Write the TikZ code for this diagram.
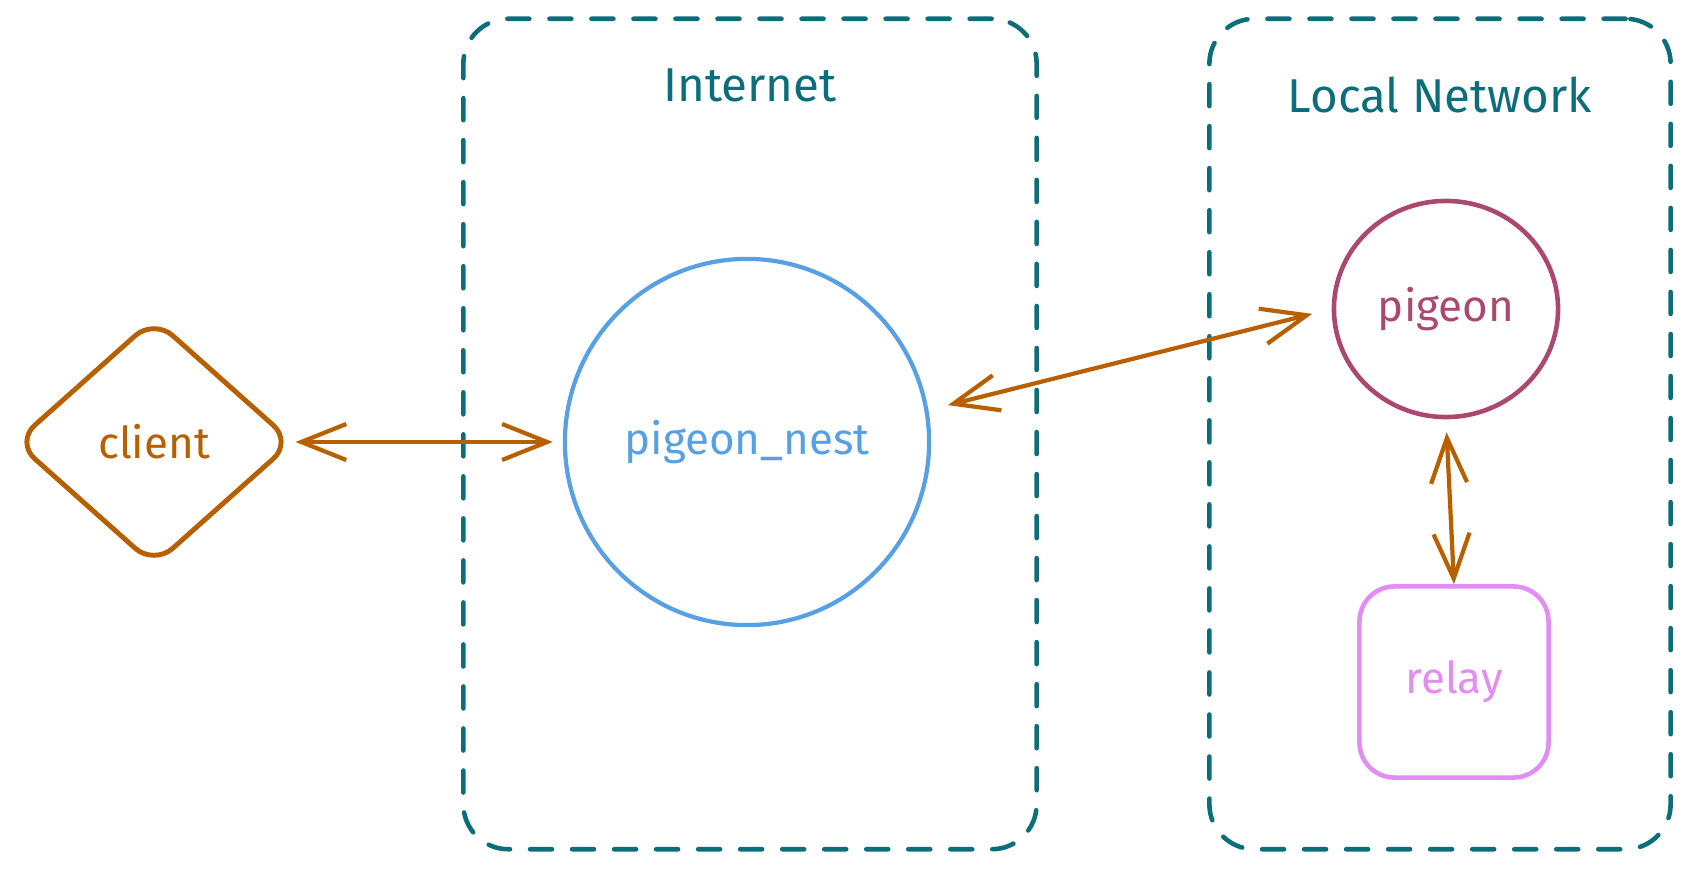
\documentclass[tikz,border=0pt]{standalone}
\usepackage{fontspec}
\setmainfont{Fira Sans}
\usetikzlibrary{positioning, shapes.geometric, arrows.meta}

\definecolor{zoneteal}{RGB}{11,110,122}
\definecolor{linkorange}{RGB}{184,96,0}
\definecolor{nestblue}{RGB}{88,160,228}
\definecolor{pigeonred}{RGB}{172,72,112}
\definecolor{relaypink}{RGB}{226,140,244}

\begin{document}
\begin{tikzpicture}[
    x=0.01cm, y=-0.01cm,
    font=\fontsize{12.5}{15}\selectfont,
    zone/.style={rectangle, draw=zoneteal, line width=1.3pt, dash pattern=on 0.22cm off 0.2cm,
        line cap=round, rounded corners=0.45cm, inner sep=0pt},
    zonelabel/.style={text=zoneteal, font=\fontsize{13.5}{15}\selectfont},
    client/.style={diamond, draw=linkorange, text=linkorange, line width=1.4pt, rounded corners=0.25cm,
        minimum width=2.78cm, minimum height=2.48cm, inner sep=0pt},
    nest/.style={ellipse, draw=nestblue, text=nestblue, line width=1.2pt, minimum width=3.64cm,
        minimum height=3.66cm, inner sep=0pt},
    pigeonnode/.style={ellipse, draw=pigeonred, text=pigeonred, line width=1.3pt, minimum width=2.24cm,
        minimum height=2.16cm, inner sep=0pt},
    relaynode/.style={rectangle, draw=relaypink, text=relaypink, line width=1.3pt, rounded corners=0.35cm,
        minimum width=1.89cm, minimum height=1.91cm, inner sep=0pt},
    link/.style={draw=linkorange, line width=1.2pt, line cap=round,
        {Straight Barb[length=0.45cm, width=0.36cm]}-{Straight Barb[length=0.45cm, width=0.36cm]}}
]
\useasboundingbox (0,0) rectangle (1690,870);

% Zones
\node[zone, minimum width=5.73cm, minimum height=8.30cm] (internet) at (750,434) {};
\node[zone, minimum width=4.61cm, minimum height=8.30cm] (lan) at (1440,434) {};
\node[zonelabel] (internetlabel) at ([yshift=-0.69cm]internet.north) {Internet};
\node[zonelabel] (lanlabel) at ([yshift=-0.78cm]lan.north) {Local Network};

% Nodes
\node[client] (client) at (154,442) {client};
\node[nest] (nest) at (747,442) {pigeon\_nest};
\node[pigeonnode] (pigeon) at (1446,309) {pigeon};
\node[relaynode] (relay) at (1454,682) {relay};

% Links
\draw[link, shorten >=0.1cm] (client.east) -- (nest.west);
\draw[link, shorten <=0.2cm, shorten >=0.2cm] (nest.10) -- (pigeon.180);
\draw[link, shorten <=0.13cm] (pigeon.south) -- (relay.north);

\end{tikzpicture}
\end{document}
